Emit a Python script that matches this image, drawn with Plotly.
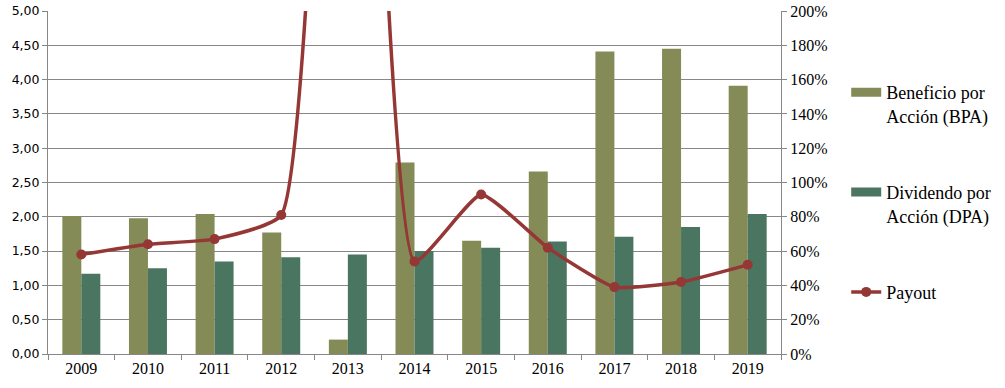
import plotly.graph_objects as go

years = ["2009", "2010", "2011", "2012", "2013", "2014", "2015", "2016", "2017", "2018", "2019"]
bpa = [2.01, 1.98, 2.04, 1.77, 0.21, 2.79, 1.65, 2.66, 4.41, 4.45, 3.91]
dpa = [1.17, 1.25, 1.35, 1.41, 1.45, 1.50, 1.55, 1.64, 1.71, 1.85, 2.04]
payout = [0.58, 0.64, 0.67, 0.81, 6.90, 0.54, 0.93, 0.62, 0.39, 0.42, 0.52]

c_bpa = "#848B57"
c_dpa = "#4A7560"
c_pay = "#953735"
grid = "#878787"
serif = "Liberation Serif, Times New Roman, serif"

fig = go.Figure()
fig.add_trace(go.Bar(x=years, y=bpa, name="Beneficio por<br>Acción (BPA)",
                     marker=dict(color=c_bpa, line=dict(width=0)), showlegend=False))
fig.add_trace(go.Bar(x=years, y=dpa, name="Dividendo por<br>Acción (DPA)",
                     marker=dict(color=c_dpa, line=dict(width=0)), showlegend=False))
fig.add_trace(go.Scatter(x=years, y=payout, name="Payout", yaxis="y2", mode="lines+markers",
                         line=dict(color=c_pay, width=3.5, shape="spline", smoothing=0.45),
                         marker=dict(color=c_pay, size=10), showlegend=False))

# legend entries
fig.add_trace(go.Scatter(x=[None], y=[None], mode="lines", name="Beneficio por<br>Acción (BPA)",
                         line=dict(color=c_bpa, width=9), legendgroup="a"))
fig.add_trace(go.Scatter(x=[None], y=[None], mode="lines", name="Dividendo por<br>Acción (DPA)",
                         line=dict(color=c_dpa, width=9), legendgroup="b"))
fig.add_trace(go.Scatter(x=[None], y=[None], mode="lines+markers", name="Payout",
                         line=dict(color=c_pay, width=3.5), marker=dict(color=c_pay, size=10),
                         legendgroup="c"))

fig.update_layout(
    width=1005, height=388,
    margin=dict(l=48, r=224, t=11, b=34),
    paper_bgcolor="white", plot_bgcolor="white",
    separators=",.",
    barmode="group", bargap=0.43, bargroupgap=0,
    xaxis=dict(type="category", range=[-0.5, len(years) - 0.5], showgrid=False, showline=True,
               linecolor=grid, linewidth=1,
               ticks="outside", tickson="boundaries", ticklen=5, tickcolor=grid, automargin=False,
               tickfont=dict(family=serif, size=16, color="#000000")),
    yaxis=dict(range=[0, 5], dtick=0.5, tickformat=".2f", showgrid=True, gridcolor=grid,
               gridwidth=1, showline=True, linecolor=grid, ticks="outside", ticklen=5,
               tickcolor=grid, zeroline=False, automargin=False,
               tickfont=dict(family="DejaVu Sans", size=12.5, color="#000000")),
    yaxis2=dict(range=[0, 2], dtick=0.2, tickformat=".0%", overlaying="y", side="right",
                showgrid=False, showline=True, linecolor=grid, ticks="outside", ticklen=5,
                tickcolor=grid, zeroline=False, automargin=False,
                tickfont=dict(family=serif, size=16, color="#000000")),
    legend=dict(x=0.842, y=0.809, xanchor="left", yanchor="top", xref="container", yref="container",
                font=dict(family=serif, size=18, color="#000000"), tracegroupgap=50,
                valign="top", itemwidth=30, bgcolor="rgba(0,0,0,0)", maxheight=340),
)

fig.write_html("out.html", config={"displayModeBar": False},
               post_script="document.body.style.margin='0px';")
